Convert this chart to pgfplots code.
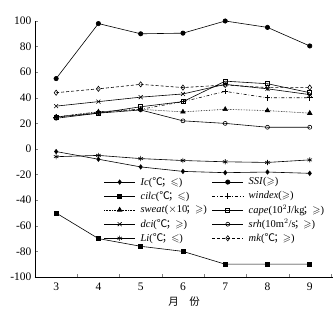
\documentclass[border=0pt]{standalone}
\usepackage{amssymb}
\usepackage{fontspec}
\setmainfont{Liberation Serif}
\newfontfamily\cjk{Noto Sans CJK SC}
\usepackage{pgfplots}
\pgfplotsset{compat=1.18}
\newcommand{\dgc}{{\cjk ℃}}
\newcommand{\semi}{{\cjk\kern-0.15em；\kern-0.1em}}
\newcommand{\lsq}{$\leqslant$}
\newcommand{\gsq}{$\geqslant$}
\begin{document}
\begin{tikzpicture}
\begin{axis}[
  scale only axis, width=298pt, height=256pt,
  xmin=2.5, xmax=9.55, ymin=-100, ymax=100,
  axis lines=left, axis line style={-, line width=0.6pt},
  xtick={3,...,9}, minor xtick={3.5,4.5,...,9.5},
  major x tick style={draw=none},
  minor tick length=3pt, major tick length=3pt,
  ytick={-100,-80,...,100},
  tick align=inside,
  tick label style={font=\fontsize{11.5}{13}\selectfont},
  xticklabel style={yshift=-2pt},
  /pgf/number format/assume math mode=true,
  xlabel={\cjk 月\quad 份}, xlabel style={font=\fontsize{10.5}{12}\selectfont, yshift=0pt},
  legend columns=2,
  legend style={draw=none, fill=none, at={(0.23,0.398)}, anchor=north west,
    font=\fontsize{10.5}{12}\selectfont, row sep=0.3pt, column sep=3pt, inner sep=0pt,
    cells={anchor=west}},
  legend image code/.code={\draw[mark repeat=2,mark phase=2] plot coordinates {(0cm,0cm) (0.55cm,0cm) (1.1cm,0cm)};},
  every axis plot/.append style={black, line width=0.6pt, mark size=2.2pt},
]
\coordinate (BL) at (rel axis cs:0,0);
\coordinate (TR) at (rel axis cs:1,1);
\addplot[mark=diamond*] coordinates {(3,-2) (4,-8) (5,-14) (6,-17.5) (7,-18.5) (8,-18) (9,-19)};
\addlegendentry{\textit{Ic}(\dgc\semi\lsq)}
\addplot[mark=*] coordinates {(3,55) (4,98) (5,90) (6,90.5) (7,100) (8,95) (9,80.5)};
\addlegendentry{\textit{SSI}(\gsq)}
\addplot[mark=square*, mark size=2pt] coordinates {(3,-50) (4,-70) (5,-76) (6,-80) (7,-90) (8,-90) (9,-90)};
\addlegendentry{\textit{cilc}(\dgc\semi\lsq)}
\addplot[mark=+, dash dot, mark options={solid}, mark size=2.8pt] coordinates {(3,25) (4,29) (5,31) (6,37) (7,45) (8,40) (9,40)};
\addlegendentry{\textit{windex}(\gsq)}
\addplot[mark=triangle*, densely dotted, mark options={solid}, mark size=2.6pt] coordinates {(3,25) (4,29) (5,31) (6,29) (7,31) (8,30) (9,28)};
\addlegendentry{\textit{sweat}($\times$10\semi\gsq)}
\addplot[mark=square, mark size=2pt] coordinates {(3,25) (4,28) (5,33) (6,37) (7,53) (8,51) (9,44)};
\addlegendentry{\textit{cape}(10$^2$J/kg\semi\gsq)}
\addplot[mark=x, mark size=2.8pt] coordinates {(3,33.5) (4,37) (5,40.5) (6,43) (7,50.5) (8,47) (9,42.5)};
\addlegendentry{\textit{dci}(\dgc\semi\gsq)}
\addplot[mark=o, mark size=2pt] coordinates {(3,24) (4,28) (5,30.5) (6,22) (7,20) (8,17) (9,17)};
\addlegendentry{\textit{srh}(10m$^2$/s\semi\gsq)}
\addplot[mark=asterisk, mark size=2.6pt] coordinates {(3,-6) (4,-5) (5,-7.5) (6,-9) (7,-10) (8,-10.5) (9,-8.5)};
\addlegendentry{\textit{Li}(\dgc\semi\lsq)}
\addplot[mark=diamond, densely dashed, mark options={solid}, mark size=2.6pt] coordinates {(3,44) (4,47) (5,50.5) (6,48) (7,50) (8,48) (9,48)};
\addlegendentry{\textit{mk}(\dgc\semi\gsq)}
\end{axis}
\pgfresetboundingbox
\path ([shift={(-35pt,-47pt)}]BL) rectangle ([shift={(2pt,21pt)}]TR);
\end{tikzpicture}
\end{document}
